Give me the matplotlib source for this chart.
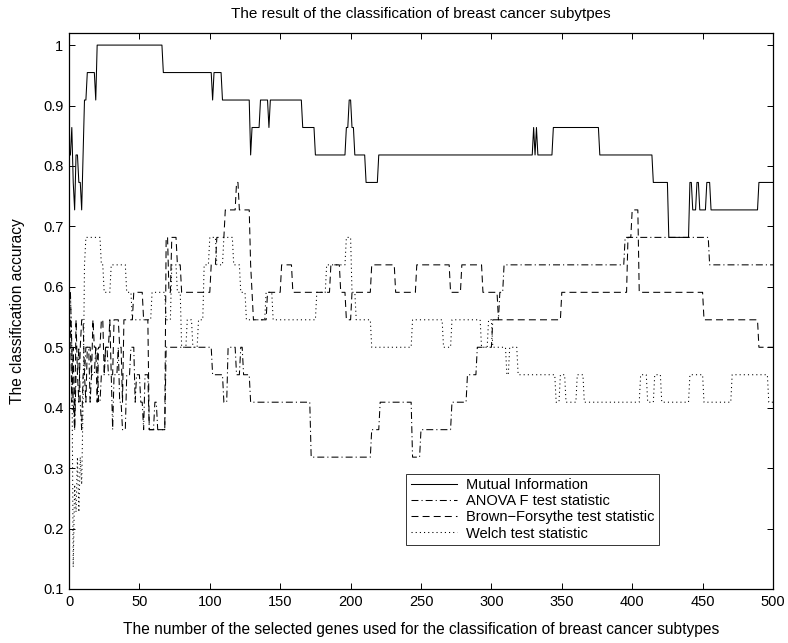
import numpy as np
import matplotlib
matplotlib.use("Agg")
import matplotlib.pyplot as plt

plt.rcParams['font.family'] = ['Liberation Sans', 'DejaVu Sans']
plt.rcParams['lines.scale_dashes'] = False

N_TEST = 22
genes = np.arange(1, 501)

# Each series: first gene index of each run, and number of correctly classified samples (of 22)
mi_starts = [1, 2, 3, 4, 5, 7, 9, 10, 11, 13, 19, 20, 67, 102, 103, 109, 129, 130, 136, 142, 143,
             166, 175, 197, 199, 201, 203, 211, 220, 330, 331, 332, 333, 344, 377, 415, 426, 441,
             443, 446, 448, 453, 456, 459, 490]
mi_counts = [18, 19, 17, 16, 18, 17, 16, 18, 20, 21, 20, 22, 21, 20, 21, 20, 18, 19, 20, 19, 20,
             19, 18, 19, 20, 19, 18, 17, 18, 19, 18, 19, 18, 19, 18, 17, 15, 17,
             16, 17, 16, 17, 16, 16, 17]

anova_starts = [1, 2, 3, 4, 5, 7, 8, 9, 10, 12, 15, 16, 19, 21, 23, 26, 28, 31, 32, 35, 36, 38,
                41, 44, 47, 48, 51, 53, 54, 57, 61, 63, 69, 102, 110, 113, 119, 122, 124, 129,
                172, 215, 221, 244, 250, 272, 283, 290, 301, 306, 309, 395, 455]
anova_counts = [13, 11, 9, 8, 10, 11, 9, 8, 10, 11, 9, 10, 11, 9, 10, 11, 10, 8, 10, 11, 9, 8,
                10, 11, 9, 10, 9, 8, 10, 8, 9, 8, 11, 10, 9, 11, 10, 11, 10, 9,
                7, 8, 9, 7, 8, 9, 10, 11, 12, 13, 14, 15, 14]

bf_starts = [1, 2, 3, 4, 5, 6, 7, 8, 9, 11, 12, 13, 16, 17, 18, 20, 21, 23, 25, 26, 29, 30, 32,
             36, 38, 39, 42, 46, 53, 57, 69, 71, 73, 77, 80, 101, 105, 111, 119, 121, 129,
             130, 131, 141, 151, 159, 186, 193, 197, 201, 215, 232, 247, 271, 279, 294,
             305, 350, 397, 400, 405, 451, 490]
bf_counts = [12, 9, 11, 8, 12, 10, 9, 11, 12, 10, 9, 11, 10, 12, 11, 9, 11, 12, 10, 11, 12, 10, 12,
             11, 9, 12, 12, 13, 12, 8, 15, 13, 15, 14, 13, 14, 15, 16, 17, 16, 14,
             13, 12, 13, 14, 13, 14, 13, 12, 13, 14, 13, 14, 13, 14, 13,
             12, 13, 15, 16, 13, 12, 11]

welch_starts = [1, 2, 3, 4, 5, 6, 7, 8, 9, 10, 11, 12, 23, 25, 30, 41, 45, 59, 69, 73, 77, 80, 84,
                88, 92, 96, 100, 105, 110, 117, 122, 126, 140, 145, 176, 183, 197, 201, 204,
                215, 244, 266, 272, 293, 298, 301, 311, 313, 319, 346, 349, 353, 361, 366, 406,
                411, 416, 421, 441, 451, 471, 497]
welch_counts = [13, 11, 3, 6, 5, 7, 5, 7, 6, 9, 14, 15, 14, 13, 14, 13, 12, 13, 12, 14, 13, 11, 12,
                11, 12, 14, 15, 14, 15, 14, 13, 12, 13, 12, 13, 14, 15, 13, 12,
                11, 12, 11, 12, 11, 12, 11, 10, 11, 10, 9, 10, 9, 10, 9, 10,
                9, 10, 9, 10, 9, 10, 9]

legend_labels = ['Mutual Information', 'ANOVA F test statistic',
                 'Brown\u2212Forsythe test statistic', 'Welch test statistic']
x_ticks = list(range(0, 501, 50))
y_ticks = [0.1, 0.2, 0.3, 0.4, 0.5, 0.6, 0.7, 0.8, 0.9, 1.0]
y_ticklabels = ['0.1', '0.2', '0.3', '0.4', '0.5', '0.6', '0.7', '0.8', '0.9', '1']


def expand(starts, counts):
    lengths = np.diff(np.array(list(starts) + [len(genes) + 1]))
    return np.repeat(np.array(counts, dtype=float), lengths) / N_TEST


fig = plt.figure(figsize=(7.88, 6.43), dpi=100)
ax = fig.add_axes([69 / 788, 54 / 643, 704 / 788, 556 / 643])

lw = 0.75
ax.plot(genes, expand(mi_starts, mi_counts), color='black', lw=lw, label=legend_labels[0])
ax.plot(genes, expand(anova_starts, anova_counts), color='black', lw=lw,
        dashes=(5, 2.2, 0.8, 2.2), label=legend_labels[1])
ax.plot(genes, expand(bf_starts, bf_counts), color='black', lw=lw,
        dashes=(5, 3), label=legend_labels[2])
ax.plot(genes, expand(welch_starts, welch_counts), color='black', lw=lw,
        dashes=(0.8, 2.2), label=legend_labels[3])

ax.set_xlim(0, 500)
ax.set_ylim(0.1, 1.02)
ax.set_xticks(x_ticks)
ax.set_xticklabels([str(t) for t in x_ticks])
ax.set_yticks(y_ticks)
ax.set_yticklabels(y_ticklabels)
ax.tick_params(direction='in', length=4.5, width=0.7, top=True, right=True,
               labelsize=10.5, pad=4, colors='black')
for s in ax.spines.values():
    s.set_linewidth(0.9)

ax.set_title('The result of the classification of breast cancer subytpes', fontsize=11, pad=11)
ax.set_xlabel('The number of the selected genes used for the classification of breast cancer subtypes',
              fontsize=11.2, labelpad=10)
ax.set_ylabel('The classification accuracy', fontsize=11.2, labelpad=13)

leg = ax.legend(loc='lower right', bbox_to_anchor=(419, 0.173), bbox_transform=ax.transData,
                fontsize=10.5, frameon=True, fancybox=False, edgecolor='black',
                handlelength=3.2, handletextpad=0.6, borderpad=0.3, labelspacing=0.15,
                borderaxespad=0)
leg.get_frame().set_linewidth(0.7)

fig.savefig('out.png', dpi=100)
